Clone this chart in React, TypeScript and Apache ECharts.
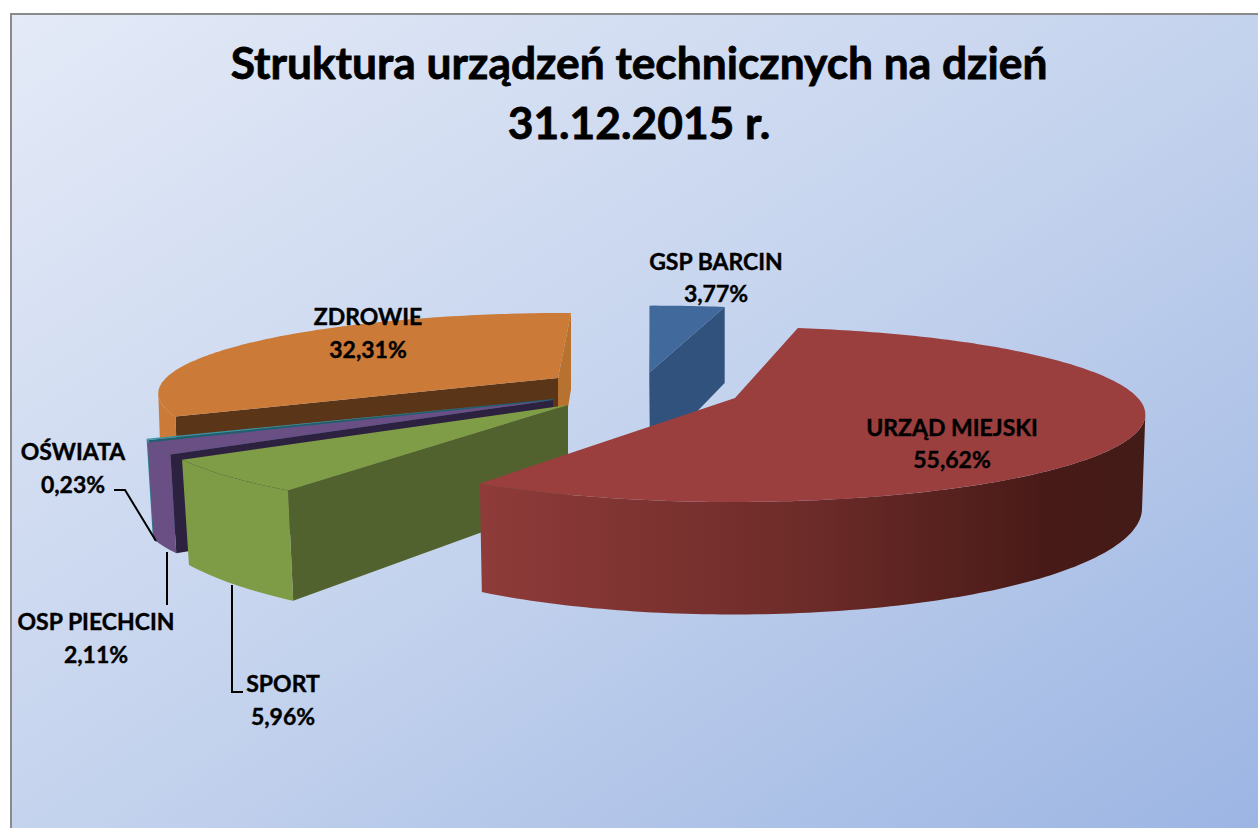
import React, { useEffect, useRef } from "react";
import * as echarts from "echarts";

const CATEGORIES = ["GSP BARCIN", "URZĄD MIEJSKI", "SPORT", "OSP PIECHCIN", "OŚWIATA", "ZDROWIE"];
const VALUES = [3.77, 55.62, 5.96, 2.11, 0.23, 32.31];
const TITLE_LINES = ["Struktura urządzeń technicznych na dzień", "31.12.2015 r."];

// back-to-front painting order (indices into CATEGORIES)
const PAINT_ORDER = [5, 4, 3, 2, 0, 1];
const FONT = "Lato";
const START_ANGLE = -1;
const DEG = Math.PI / 180;

type Look = {
  ax: number; ay: number; cx: number; cy: number; A: number; B: number; h: number; lean: number; turn: number; p: number;
  top: string; side: any; startFace?: string; endFace?: string;
};

const redSide = new echarts.graphic.LinearGradient(485, 0, 1145, 0, [
  { offset: 0, color: "#8e3b39" },
  { offset: 0.5, color: "#6c2b28" },
  { offset: 0.85, color: "#481a17" },
  { offset: 1, color: "#431b17" },
], true);

const LOOKS: Look[] = [
  { ax: 650, ay: 372, cx: 655, cy: 372, A: 370, B: 77, h: 88, lean: 0, turn: 0, p: 0.16, top: "#41699c", side: "#30527c", startFace: "#1d3450", endFace: "#30527c" },
  { ax: 735, ay: 398, cx: 733, cy: 397, A: 404, B: 84, h: 90, lean: 0.008, turn: -1.5, p: 0.2, top: "#9b3f3e", side: redSide },
  { ax: 568, ay: 405, cx: 568, cy: 405, A: 421, B: 91, h: 96, lean: 0.018, turn: 2.5, p: 0.16, top: "#7f9c47", side: "#7e9b46", startFace: "#52622f" },
  { ax: 553, ay: 400, cx: 553, cy: 400, A: 421, B: 88, h: 90, lean: 0.015, turn: 1.5, p: 0.16, top: "#6a4f85", side: "#6a4f85", startFace: "#2d2140" },
  { ax: 553, ay: 399, cx: 553, cy: 399, A: 420, B: 85, h: 90, lean: 0.015, turn: 1.5, p: 0.16, top: "#3a93a8", side: "#2f7f92", startFace: "#1f5f70" },
  { ax: 558, ay: 378, cx: 571, cy: 379, A: 406, B: 78, h: 90, lean: 0.008, turn: 1, p: 0.18, top: "#cb7a37", side: "#cb7a37", startFace: "#5a3517", endFace: "#b8722f" },
];

const LABELS = [
  { x: 716, y1: 261, y2: 293 },
  { x: 952, y1: 427, y2: 459 },
  { x: 283, y1: 683, y2: 716 },
  { x: 96, y1: 621, y2: 654 },
  { x: 73, y1: 451, y2: 484 },
  { x: 368, y1: 316, y2: 349 },
];
const LEADERS = [
  [[114, 490], [125, 490], [156, 541]],
  [[167, 552], [167, 605]],
  [[232, 585], [232, 692], [243, 692]],
];

// slice spans from the values
const spans = (() => {
  let acc = START_ANGLE;
  return VALUES.map((v) => {
    const s = acc;
    acc += (v / 100) * 360;
    return [s, acc];
  });
})();

function rim(l: Look, deg: number) {
  const t = deg * DEG;
  const s = 1 / (1 + l.p * Math.cos(t));
  return { x: l.cx + l.A * Math.sin(t) * s, y: l.cy - l.B * Math.cos(t) * s, s };
}
const upper = (l: Look, d: number) => {
  const p = rim(l, d);
  return [p.x, p.y];
};
const lower = (l: Look, d: number) => {
  const p = rim(l, d);
  return [l.cx + (p.x - l.cx) * (1 - l.lean), p.y + l.h * p.s];
};
function arc(a: number, b: number) {
  const out: number[] = [];
  const n = Math.max(2, Math.ceil(Math.abs(b - a)));
  for (let i = 0; i <= n; i++) out.push(a + ((b - a) * i) / n);
  return out;
}
const poly = (points: number[][], fill: any) => ({ type: "polygon", shape: { points }, style: { fill, stroke: "none" }, silent: true });

function renderSlice(_p: any, api: any) {
  const idx = api.value(0) as number;
  const l = LOOKS[idx];
  const a = spans[idx][0] + l.turn;
  const b = spans[idx][1] + l.turn;
  const apex = [l.ax, l.ay];
  const apexLow = [l.ax, l.ay + l.h];
  const children: any[] = [];
  if (l.endFace) children.push(poly([apex, upper(l, b), lower(l, b), apexLow], l.endFace));
  if (l.startFace) children.push(poly([apex, upper(l, a), lower(l, a), apexLow], l.startFace));
  const edge = Math.asin(l.p) / DEG;
  const sa = Math.max(a, 90 + edge);
  const sb = Math.min(b, 270 - edge);
  if (sb > sa) {
    const r = arc(sa, sb);
    children.push(poly([...r.map((d) => upper(l, d)), ...r.slice().reverse().map((d) => lower(l, d))], l.side));
  }
  children.push(poly([apex, ...arc(a, b).map((d) => upper(l, d))], l.top));
  return { type: "group", children };
}

const pct = (v: number) => v.toFixed(2).replace(".", ",") + "%";

function renderLabel(_p: any, api: any) {
  const i = api.value(0) as number;
  const pos = LABELS[i];
  const txt = (text: string, y: number) => ({
    type: "text",
    silent: true,
    style: { x: pos.x, y, text, fill: "#000", stroke: "#000", lineWidth: 0.4, fontFamily: FONT, fontWeight: "bold", fontSize: 23, textAlign: "center", textVerticalAlign: "middle" },
  });
  return { type: "group", children: [txt(CATEGORIES[i], pos.y1), txt(pct(VALUES[i]), pos.y2)] };
}

export default function App() {
  const ref = useRef<HTMLDivElement>(null);
  useEffect(() => {
    document.body.style.margin = "0";
    const chart = echarts.init(ref.current!, undefined, { renderer: "svg" });
    chart.setOption({
      animation: false,
      backgroundColor: "#ffffff",
      title: {
        text: TITLE_LINES.join("\n"),
        left: 634,
        top: 26,
        textAlign: "center",
        textStyle: { fontFamily: FONT, fontWeight: "bold", fontSize: 44.3, lineHeight: 60, color: "#000", textBorderColor: "#000", textBorderWidth: 0.8 },
      },
      graphic: [
        {
          type: "rect",
          z: -10,
          silent: true,
          shape: { x: 11, y: 14, width: 1300, height: 860 },
          style: {
            stroke: "#8a8a8a",
            lineWidth: 2,
            fill: new echarts.graphic.LinearGradient(0, 0, 1, 1, [
              { offset: 0, color: "#e4eaf7" },
              { offset: 0.5, color: "#c3d2ed" },
              { offset: 1, color: "#98b2e2" },
            ]),
          },
        },
        ...LEADERS.map((points) => ({
          type: "polyline",
          z: 20,
          silent: true,
          shape: { points },
          style: { stroke: "#000", lineWidth: 2, fill: "none" },
        })),
      ],
      series: [
        { type: "custom", name: "slices", coordinateSystem: "none", z: 2, silent: true, renderItem: renderSlice, data: PAINT_ORDER.map((i) => [i, VALUES[i]]) },
        { type: "custom", name: "labels", coordinateSystem: "none", z: 10, silent: true, renderItem: renderLabel, data: CATEGORIES.map((_, i) => [i, VALUES[i]]) },
      ],
    });
    return () => chart.dispose();
  }, []);
  return <div ref={ref} style={{ width: 1258, height: 828 }} />;
}
